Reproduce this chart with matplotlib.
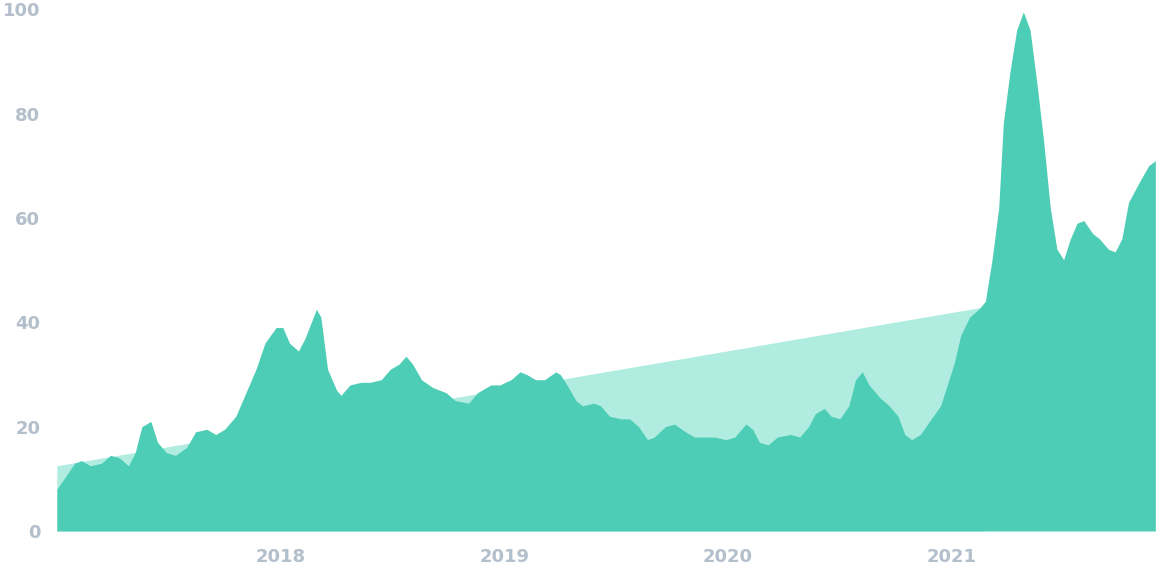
import numpy as np
import matplotlib
matplotlib.use('agg')
import matplotlib.pyplot as plt

years = [2017.00, 2017.08, 2017.11, 2017.15, 2017.20, 2017.24, 2017.28, 2017.32, 2017.35, 2017.38,
         2017.42, 2017.45, 2017.49, 2017.53, 2017.58, 2017.62, 2017.67, 2017.71, 2017.75, 2017.80,
         2017.84, 2017.89, 2017.93, 2017.98, 2018.01, 2018.04, 2018.08, 2018.11, 2018.16, 2018.18,
         2018.21, 2018.25, 2018.27, 2018.31, 2018.36, 2018.40, 2018.45, 2018.49, 2018.53, 2018.56,
         2018.59, 2018.63, 2018.68, 2018.74, 2018.78, 2018.84, 2018.88, 2018.94, 2018.98, 2019.03,
         2019.07, 2019.10, 2019.14, 2019.18, 2019.23, 2019.25, 2019.28, 2019.32, 2019.35, 2019.40,
         2019.43, 2019.47, 2019.52, 2019.56, 2019.60, 2019.64, 2019.67, 2019.72, 2019.76, 2019.81,
         2019.85, 2019.90, 2019.94, 2019.99, 2020.03, 2020.08, 2020.11, 2020.14, 2020.18, 2020.22,
         2020.28, 2020.32, 2020.36, 2020.39, 2020.43, 2020.46, 2020.50, 2020.54, 2020.57, 2020.60,
         2020.63, 2020.68, 2020.72, 2020.76, 2020.79, 2020.82, 2020.86, 2020.90, 2020.95, 2020.98,
         2021.01, 2021.04, 2021.08, 2021.12, 2021.15, 2021.18, 2021.21, 2021.23, 2021.26, 2021.29,
         2021.32, 2021.35, 2021.38, 2021.41, 2021.44, 2021.47, 2021.50, 2021.53, 2021.56, 2021.59,
         2021.63, 2021.66, 2021.70, 2021.73, 2021.76, 2021.79, 2021.84, 2021.88, 2021.91]
values = [8, 13, 13.5, 12.5, 13, 14.5, 14, 12.5, 15, 20,
          21, 17, 15, 14.5, 16, 19, 19.5, 18.5, 19.5, 22,
          26, 31, 36, 39, 39, 36, 34.5, 37, 42.5, 41,
          31, 27, 26, 28, 28.5, 28.5, 29, 31, 32, 33.5,
          32, 29, 27.5, 26.5, 25, 24.5, 26.5, 28, 28, 29,
          30.5, 30, 29, 29, 30.5, 30, 28, 25, 24, 24.5,
          24, 22, 21.5, 21.5, 20, 17.5, 18, 20, 20.5, 19,
          18, 18, 18, 17.5, 18, 20.5, 19.5, 17, 16.5, 18,
          18.5, 18, 20, 22.5, 23.5, 22, 21.5, 24, 29, 30.5,
          28, 25.5, 24, 22, 18.5, 17.5, 18.5, 21, 24, 28,
          32, 37.5, 41, 42.5, 44, 52, 62, 78, 88, 96,
          99.5, 96, 86, 75, 62, 54, 52, 56, 59, 59.5,
          57, 56, 54, 53.5, 56, 63, 67, 70, 71]

trend_years = [2017.0, 2021.15]
trend_values = [12.5, 43]

x_ticks = [2018, 2019, 2020, 2021]
y_ticks = [0, 20, 40, 60, 80, 100]

fig = plt.figure(figsize=(11.6, 5.8), dpi=100)
ax = fig.add_axes([0.049, 0.0845, 0.947, 0.8995])

ax.fill_between(trend_years, trend_values, 0, color='#b0ece0', lw=0)
ax.fill_between(years, values, 0, color='#4ecdb6', lw=0)

ax.set_xlim(years[0], years[-1])
ax.set_ylim(0, 100)
ax.set_xticks(x_ticks)
ax.set_xticklabels([str(t) for t in x_ticks])
ax.set_yticks(y_ticks)
for s in ax.spines.values():
    s.set_visible(False)
ax.tick_params(length=0, colors='#b4bfcc', labelsize=13)
ax.tick_params(axis='x', pad=12)
ax.tick_params(axis='y', pad=12)
for lab in ax.get_xticklabels() + ax.get_yticklabels():
    lab.set_fontweight('bold')

fig.savefig('out.png')
